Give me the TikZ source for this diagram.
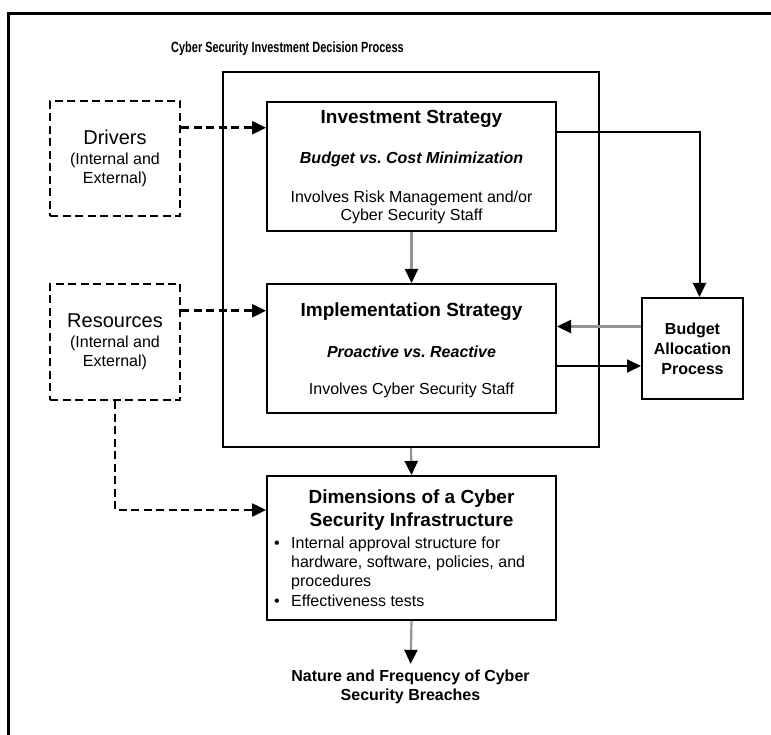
\documentclass[tikz,border=0pt]{standalone}
\usepackage{fontspec}
\setmainfont{Liberation Sans}
\newfontfamily\narrowsans[FakeStretch=0.74]{Liberation Sans}
\usetikzlibrary{arrows.meta}
\begin{document}
\begin{tikzpicture}[x=1pt, y=-1pt,
  box/.style={draw, line width=2pt, inner sep=0pt},
  dashbox/.style={draw, line width=2.5pt, dash pattern=on 8pt off 4.5pt, inner sep=0pt, align=center, font=\fontsize{16}{19.3}\selectfont},
  head/.style={font=\fontsize{19}{23.3}\selectfont\bfseries, inner sep=0pt, align=center},
  sub/.style={font=\fontsize{16}{19}\selectfont\bfseries\itshape, inner sep=0pt},
  body/.style={font=\fontsize{16}{18.5}\selectfont, inner sep=0pt, align=center},
  link/.style={line width=2pt, -{Triangle[length=14pt,width=13pt]}},
  flow/.style={line width=2.2pt, black!42, -{Triangle[length=14pt,width=13pt,color=black]}},
  dashlink/.style={line width=2.5pt, dash pattern=on 8pt off 4.5pt, -{Triangle[length=14pt,width=13pt]}}]
\useasboundingbox (0,0) rectangle (771,735);
\draw[line width=3pt] (8,735) -- (8,14) -- (771,14);
\node[font=\narrowsans\fontsize{14.8}{16}\selectfont\bfseries, inner sep=0pt, anchor=base] (title) at (287.5,52.3) {Cyber Security Investment Decision Process};
\node[box, minimum width=376pt, minimum height=375pt] (process) at (411,259.5) {};
\node[box, minimum width=289pt, minimum height=129pt] (inv) at (411.5,166.5) {};
\node[box, minimum width=289pt, minimum height=129pt] (impl) at (411.5,348.5) {};
\node[box, minimum width=289pt, minimum height=144pt] (dims) at (411.5,548) {};
\node[box, minimum width=101pt, minimum height=101pt, align=center, font=\fontsize{16}{20}\selectfont\bfseries] (budget) at (692.5,348.5) {Budget\\Allocation\\Process};
\node[dashbox, minimum width=130pt, minimum height=115pt] (drivers) at (115,158.5) {{\fontsize{20}{24}\selectfont Drivers}\\[0.7pt](Internal and\\External)};
\node[dashbox, minimum width=130pt, minimum height=116pt] (res) at (115,342) {{\fontsize{20}{24}\selectfont Resources}\\[0.7pt](Internal and\\External)};
\node[head, anchor=base] (invhead) at (411.5,123.8) {Investment Strategy};
\node[sub, anchor=base] (invsub) at (411.5,163.7) {Budget vs.\ Cost Minimization};
\node[body] (invbody) at (411.5,207.5) {Involves Risk Management and/or\\Cyber Security Staff};
\node[head, anchor=base] (implhead) at (411.5,316.8) {Implementation Strategy};
\node[sub, anchor=base] (implsub) at (411.5,357.4) {Proactive vs.\ Reactive};
\node[body, anchor=base] (implbody) at (411.5,394.7) {Involves Cyber Security Staff};
\node[head] (dimshead) at (411.5,510.2) {Dimensions of a Cyber\\Security Infrastructure};
\node[anchor=base west, inner sep=0pt, font=\fontsize{16}{19.1}\selectfont] (dimslist) at (273.9,548.7) {\begin{tabular}[t]{@{}l@{\hspace{11.5pt}}l@{}}
\textbullet & Internal approval structure for\\
 & hardware, software, policies, and\\
 & procedures\\
\textbullet & Effectiveness tests
\end{tabular}};
\node[font=\fontsize{16}{19}\selectfont\bfseries, align=center, inner sep=0pt] (outcome) at (410.5,687) {Nature and Frequency of Cyber\\Security Breaches};
\draw[dashlink] ([yshift=-28pt]drivers.north east) coordinate (d1) -- (d1 -| inv.west);
\draw[dashlink] ([yshift=-28pt]res.north east) coordinate (r1) -- (r1 -| impl.west);
\draw[dashlink] (res.south) |- ([yshift=-35pt]dims.north west);
\draw[flow] (inv.south) -- (impl.north);
\draw[link] ([yshift=-31pt]inv.north east) -| ([xshift=7pt]budget.north);
\draw[flow] ([yshift=-29.5pt]budget.north west) coordinate (b1) -- (b1 -| impl.east);
\coordinate (b2) at ([yshift=-69pt]budget.north west);
\draw[link] (b2 -| impl.east) -- (b2);
\draw[flow] (process.south) -- (dims.north);
\draw[flow, shorten >=6pt] (dims.south) -- (outcome.north);
\end{tikzpicture}
\end{document}
